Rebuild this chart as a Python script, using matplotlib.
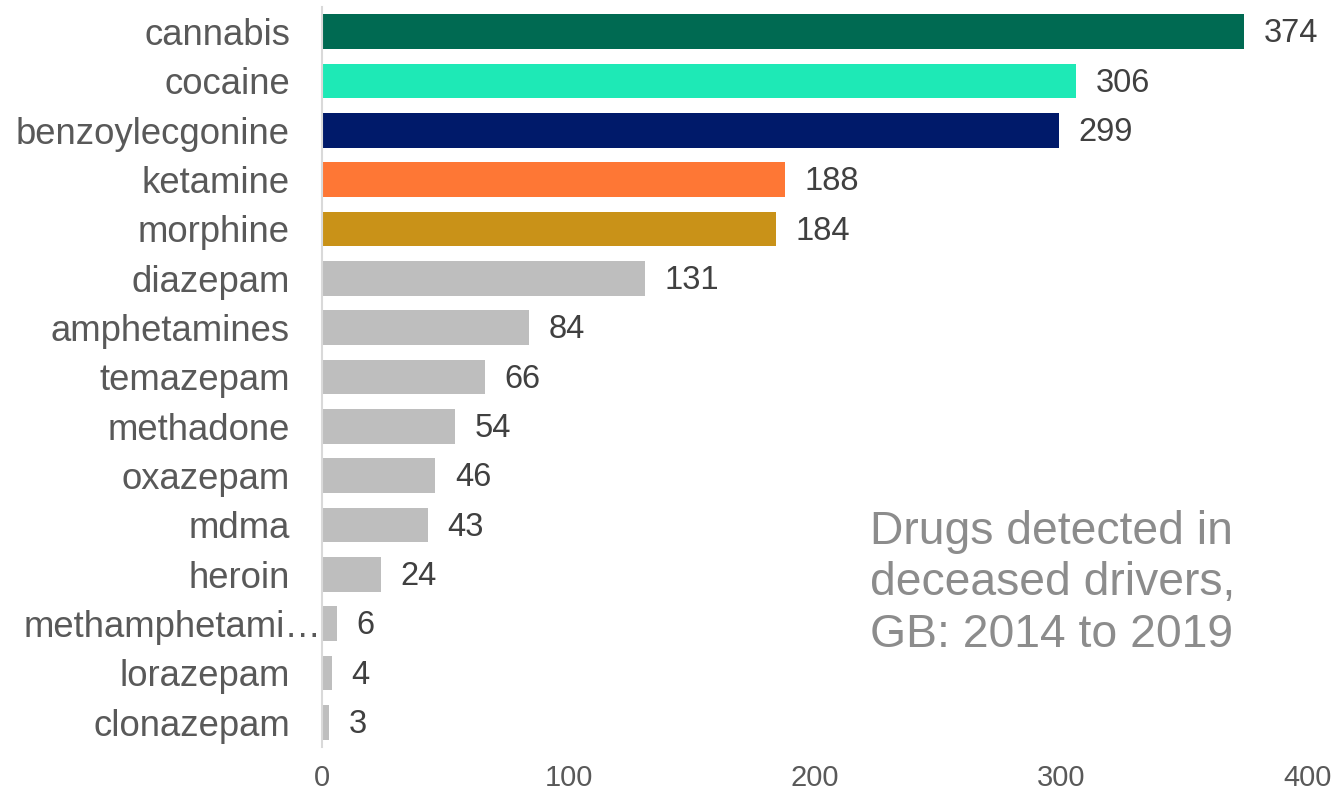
import matplotlib.pyplot as plt

# Drugs detected in deceased drivers, GB 2014-2019
drugs = ['cannabis', 'cocaine', 'benzoylecgonine', 'ketamine', 'morphine',
         'diazepam', 'amphetamines', 'temazepam', 'methadone', 'oxazepam',
         'mdma', 'heroin', 'methamphetami\u2026', 'lorazepam', 'clonazepam']
counts = [374, 306, 299, 188, 184, 131, 84, 66, 54, 46, 43, 24, 6, 4, 3]
bar_colors = ['#006a52', '#1ee9b6', '#001a6a', '#fe7735', '#c99218'] + ['#bebebe'] * 10

plt.rcParams['font.family'] = ['Liberation Sans', 'DejaVu Sans']

fig = plt.figure(figsize=(13.42, 7.93), dpi=100)
ax = fig.add_axes([322 / 1342, 1 - 747 / 793, (1308 - 322) / 1342, (747 - 7) / 793])

pos = list(range(len(drugs)))
ax.barh(pos, counts, height=0.7, color=bar_colors)

for y, v in zip(pos, counts):
    ax.annotate(str(v), (v, y), xytext=(14, -1.5), textcoords='offset points',
                va='center', ha='left', fontsize=23.5, color='#404040')

ax.set_xlim(0, 400)
ax.set_ylim(len(drugs) - 0.5, -0.5)
ax.set_xticks([0, 100, 200, 300, 400])
ax.set_yticks(pos)
ax.set_yticklabels(drugs)

ax.tick_params(axis='y', length=0, pad=23, labelsize=26.3, labelcolor='#595959')
ax.tick_params(axis='x', length=0, pad=12, labelsize=21, labelcolor='#595959')

# the truncated label runs right up to the axis line
ax.yaxis.get_major_ticks()[12].set_pad(0.5)

for side in ['top', 'right', 'bottom']:
    ax.spines[side].set_visible(False)
ax.spines['left'].set_color('#d9d9d9')
ax.spines['left'].set_linewidth(1.5)

fig.text(870 / 1342, 1 - 510 / 793, 'Drugs detected in\ndeceased drivers,\nGB: 2014 to 2019',
         ha='left', va='top', fontsize=33.3, color='#8c8c8c', linespacing=1.22)

fig.savefig('out.png', dpi=100)
